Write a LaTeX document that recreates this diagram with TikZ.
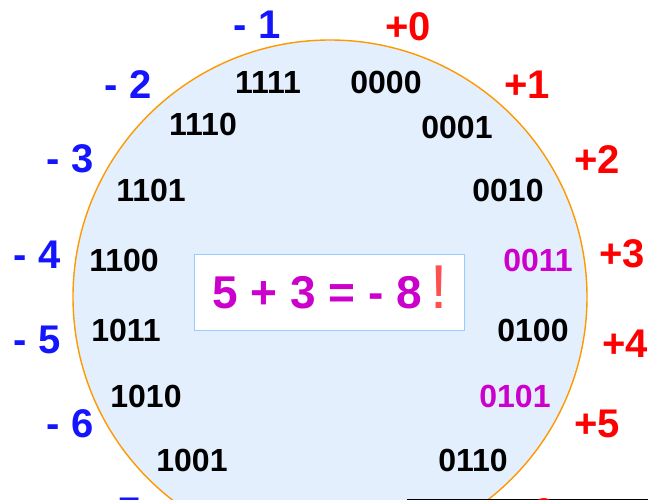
\documentclass[tikz,border=0pt]{standalone}
\usepackage{fontspec}
\setmainfont{Liberation Sans}
\usepackage{xcolor}
\usepackage{tikz}
\usetikzlibrary{positioning,shapes.geometric}

\definecolor{wheelfill}{HTML}{E3EFFD}
\definecolor{wheelline}{HTML}{FF9900}
\definecolor{posred}{HTML}{FF0000}
\definecolor{negblue}{HTML}{1414FF}
\definecolor{hilite}{HTML}{CC00CC}
\definecolor{boxline}{HTML}{99CCFF}
\definecolor{bangred}{HTML}{FF5050}

\begin{document}
\begin{tikzpicture}[
    x=1pt, y=-1pt,
    code/.style={font=\fontsize{32}{32}\selectfont\bfseries, text=black, inner sep=0pt},
    hot/.style={code, text=hilite},
    posval/.style={font=\fontsize{40}{40}\selectfont\bfseries, text=posred, inner sep=0pt},
    negval/.style={font=\fontsize{40}{40}\selectfont\bfseries, text=negblue, inner sep=0pt},
    wheel/.style={circle, draw=wheelline, fill=wheelfill, line width=1.4pt, minimum size=514pt, inner sep=0pt},
    sumbox/.style={draw=boxline, fill=white, line width=0.8pt, minimum width=270pt, minimum height=76pt, inner sep=0pt}
]
\clip (0,0) rectangle (648,500);

% Wheel
\node[wheel] (wheel) at (330,297) {};

% Bit patterns
\node[code] (b0000) at (386,82) {0000};
\node[code] (b0001) at (457,127) {0001};
\node[code] (b0010) at (508,190) {0010};
\node[hot]  (b0011) at (538,260) {0011};
\node[code] (b0100) at (533,330) {0100};
\node[hot]  (b0101) at (515,396) {0101};
\node[code] (b0110) at (473,460) {0110};
\node[code] (b1111) at (268,82) {1111};
\node[code] (b1110) at (203,124) {1110};
\node[code] (b1101) at (151,190) {1101};
\node[code] (b1100) at (124,260) {1100};
\node[code] (b1011) at (126,330) {1011};
\node[code] (b1010) at (146,396) {1010};
\node[code] (b1001) at (192,460) {1001};

% Values outside the wheel
\node[posval] (p0) at (408,27) {+0};
\node[posval] (p1) at (527,85) {+1};
\node[posval] (p2) at (597,160) {+2};
\node[posval] (p3) at (622,254) {+3};
\node[posval] (p4) at (625,344) {+4};
\node[posval] (p5) at (597,424) {+5};
\node[negval] (n1) at (257,25) {- 1};
\node[negval] (n2) at (128,85) {- 2};
\node[negval] (n3) at (70,159) {- 3};
\node[negval] (n4) at (37,255) {- 4};
\node[negval] (n5) at (37,340) {- 5};
\node[negval] (n6) at (70,424) {- 6};
\node[negval] (n7) at (117,512) {- 7};

% Overflow note
\node[sumbox] (sumframe) at (329,292) {};
\node[anchor=base, inner sep=0pt] (sum) at (330,308)
    {\textcolor{hilite}{\fontsize{46}{46}\selectfont\bfseries 5 + 3 = - 8}\hspace{8pt}\textcolor{bangred}{\fontsize{62}{62}\selectfont !}};

% Box at the lower edge
\node[draw=black, fill=white, line width=1pt, anchor=north west, minimum width=260pt, minimum height=60pt] (nextbox) at (407,499) {};
\node[posval] (p6) at (532,513) {+6};

\end{tikzpicture}
\end{document}
